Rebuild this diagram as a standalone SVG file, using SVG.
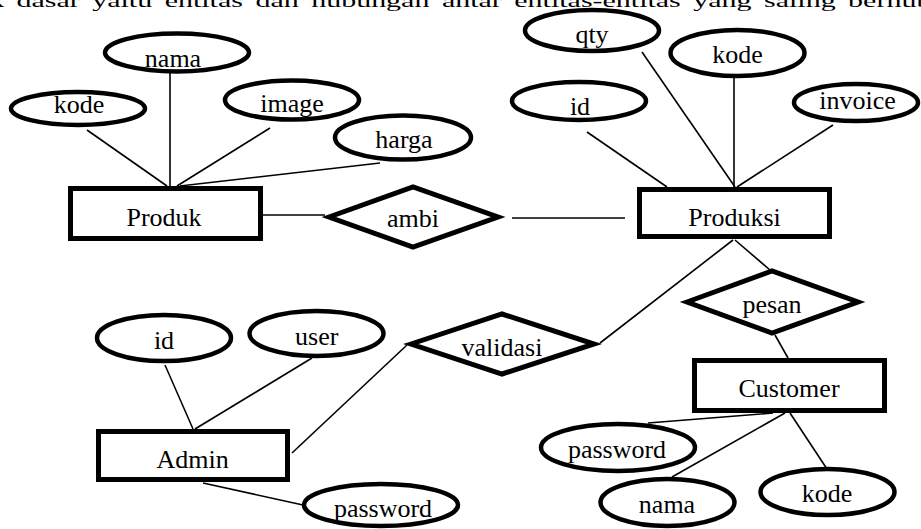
<svg xmlns="http://www.w3.org/2000/svg" width="921" height="529" viewBox="0 0 921 529">
  <style>
    text { font-family: "Liberation Serif", "Times New Roman", serif; font-size: 26px; fill: #000; }
    .lbl { text-anchor: middle; }
    .para { font-size: 30px; word-spacing: 5px; }
    .attr { fill: #fff; stroke: #000; stroke-width: 4.5; }
    .ent { fill: #fff; stroke: #000; stroke-width: 5; }
    .rel { fill: #fff; stroke: #000; stroke-width: 5; stroke-linejoin: miter; }
    #connectors line { stroke: #000; stroke-width: 1.6; }
  </style>
  <rect width="921" height="529" fill="#fff"/>

  <!-- running paragraph text above the figure -->
  <text class="para" x="-11" y="11" transform="scale(1,0.6)">k dasar yaitu entitas dan hubungan antar entitas-entitas yang saling berhubungan</text>

  <g id="connectors">
    <line x1="87" y1="130" x2="167" y2="186"/>
    <line x1="170" y1="73" x2="170" y2="186"/>
    <line x1="270" y1="128" x2="177" y2="186"/>
    <line x1="380" y1="163" x2="180" y2="186"/>
    <line x1="263" y1="215" x2="325" y2="215"/>
    <line x1="512" y1="218" x2="625" y2="218"/>
    <line x1="587" y1="132" x2="667" y2="187"/>
    <line x1="642" y1="52" x2="735" y2="187"/>
    <line x1="734" y1="78" x2="734" y2="187"/>
    <line x1="833" y1="125" x2="737" y2="187"/>
    <line x1="600" y1="343" x2="733" y2="240"/>
    <line x1="735" y1="240" x2="770" y2="270"/>
    <line x1="775" y1="335" x2="788" y2="358"/>
    <line x1="165" y1="365" x2="193" y2="429"/>
    <line x1="312" y1="358" x2="195" y2="429"/>
    <line x1="292" y1="453" x2="407" y2="345"/>
    <line x1="203" y1="483" x2="303" y2="505"/>
    <line x1="773" y1="413" x2="648" y2="423"/>
    <line x1="785" y1="413" x2="672" y2="477"/>
    <line x1="790" y1="413" x2="827" y2="469"/>
  </g>

  <!-- Produk and its attributes -->
  <g id="produk">
    <rect class="ent" x="70.5" y="188.5" width="190" height="50"/>
    <text class="lbl" x="164" y="226">Produk</text>
  </g>
  <g id="produk-nama">
    <ellipse class="attr" cx="177" cy="52.5" rx="72" ry="19"/>
    <text class="lbl" x="173" y="67">nama</text>
  </g>
  <g id="produk-kode">
    <ellipse class="attr" cx="78" cy="108.5" rx="67" ry="16.5"/>
    <text class="lbl" x="79" y="113">kode</text>
  </g>
  <g id="produk-image">
    <ellipse class="attr" cx="292" cy="100" rx="67" ry="19.5"/>
    <text class="lbl" x="292" y="112">image</text>
  </g>
  <g id="produk-harga">
    <ellipse class="attr" cx="403" cy="137.5" rx="68" ry="22"/>
    <text class="lbl" x="404" y="148">harga</text>
  </g>

  <!-- relationship Produk / Produksi -->
  <g id="ambi">
    <polygon class="rel" points="329,217 413,187 498,217 413,247"/>
    <text class="lbl" x="413" y="227">ambi</text>
  </g>

  <!-- Produksi and its attributes -->
  <g id="produksi">
    <rect class="ent" x="639.5" y="189.5" width="190" height="47"/>
    <text class="lbl" x="734.5" y="226">Produksi</text>
  </g>
  <g id="produksi-qty">
    <ellipse class="attr" cx="592" cy="30.5" rx="67" ry="20.5"/>
    <text class="lbl" x="592" y="43">qty</text>
  </g>
  <g id="produksi-kode">
    <ellipse class="attr" cx="737.5" cy="53" rx="67" ry="23"/>
    <text class="lbl" x="737.5" y="63">kode</text>
  </g>
  <g id="produksi-id">
    <ellipse class="attr" cx="579" cy="101" rx="67" ry="19"/>
    <text class="lbl" x="580" y="115">id</text>
  </g>
  <g id="produksi-invoice">
    <ellipse class="attr" cx="856" cy="102.5" rx="62" ry="18.5"/>
    <text class="lbl" x="857.5" y="109">invoice</text>
  </g>

  <!-- relationship Produksi / Customer -->
  <g id="pesan">
    <polygon class="rel" points="687,302 772,271 858,302 772,333"/>
    <text class="lbl" x="772" y="313">pesan</text>
  </g>

  <!-- relationship Admin / Produksi -->
  <g id="validasi">
    <polygon class="rel" points="411,344 502,314 594,344 502,374"/>
    <text class="lbl" x="502" y="356">validasi</text>
  </g>

  <!-- Admin and its attributes -->
  <g id="admin">
    <rect class="ent" x="98.5" y="431.5" width="189" height="48"/>
    <text class="lbl" x="192.7" y="468">Admin</text>
  </g>
  <g id="admin-id">
    <ellipse class="attr" cx="164" cy="338" rx="67" ry="23"/>
    <text class="lbl" x="164" y="349">id</text>
  </g>
  <g id="admin-user">
    <ellipse class="attr" cx="316.5" cy="333.5" rx="67" ry="22.5"/>
    <text class="lbl" x="316.7" y="345">user</text>
  </g>
  <g id="admin-password">
    <ellipse class="attr" cx="381" cy="505" rx="77" ry="21"/>
    <text class="lbl" x="383" y="517">password</text>
  </g>

  <!-- Customer and its attributes -->
  <g id="customer">
    <rect class="ent" x="694.5" y="360.5" width="190" height="50"/>
    <text class="lbl" x="789" y="397">Customer</text>
  </g>
  <g id="customer-password">
    <ellipse class="attr" cx="618" cy="447.5" rx="77" ry="23.5"/>
    <text class="lbl" x="617" y="458">password</text>
  </g>
  <g id="customer-nama">
    <ellipse class="attr" cx="667.5" cy="502.5" rx="67" ry="23.5"/>
    <text class="lbl" x="667" y="513">nama</text>
  </g>
  <g id="customer-kode">
    <ellipse class="attr" cx="827.5" cy="492" rx="67" ry="23"/>
    <text class="lbl" x="827" y="502">kode</text>
  </g>
</svg>
